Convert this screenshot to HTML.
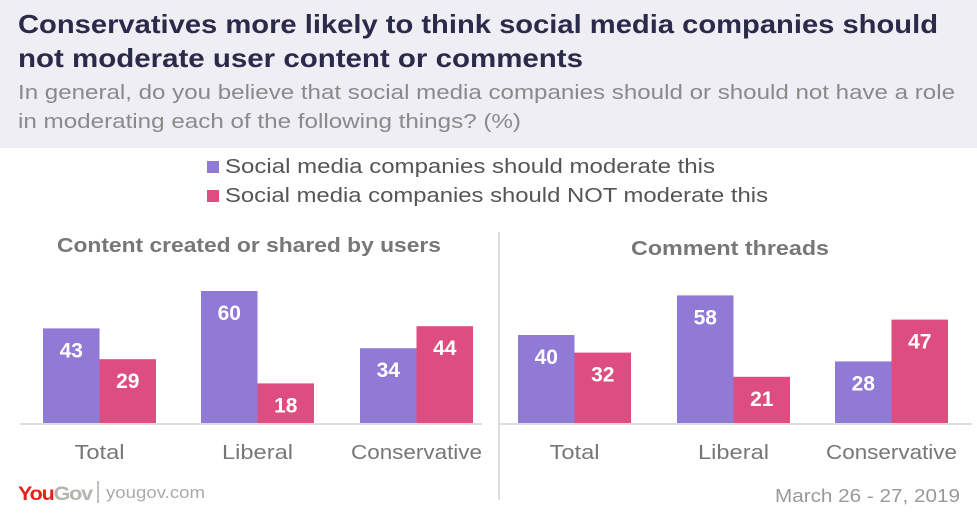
<!DOCTYPE html>
<html><head><meta charset="utf-8"><style>
body{margin:0;width:977px;height:508px;overflow:hidden;background:#fff;font-family:"Liberation Sans",sans-serif;}
</style></head><body>
<svg width="977" height="508" viewBox="0 0 977 508" xmlns="http://www.w3.org/2000/svg">
<rect x="0" y="0" width="977" height="148" fill="#efeef4"/>
<text x="18" y="33" font-size="26" font-weight="bold" fill="#2b2a4a" textLength="920" lengthAdjust="spacingAndGlyphs">Conservatives more likely to think social media companies should</text>
<text x="18" y="67" font-size="26" font-weight="bold" fill="#2b2a4a" textLength="565" lengthAdjust="spacingAndGlyphs">not moderate user content or comments</text>
<text x="18" y="99" font-size="20" fill="#8a8a8a" textLength="937" lengthAdjust="spacingAndGlyphs">In general, do you believe that social media companies should or should not have a role</text>
<text x="18" y="128" font-size="20" fill="#8a8a8a" textLength="503" lengthAdjust="spacingAndGlyphs">in moderating each of the following things? (%)</text>
<rect x="207" y="161" width="12" height="12" fill="#9179d6"/>
<text x="225" y="173" font-size="20" fill="#555" textLength="490" lengthAdjust="spacingAndGlyphs">Social media companies should moderate this</text>
<rect x="207" y="190" width="12" height="12" fill="#de4d7f"/>
<text x="225" y="202" font-size="20" fill="#555" textLength="543" lengthAdjust="spacingAndGlyphs">Social media companies should NOT moderate this</text>
<text x="57" y="252" font-size="20" font-weight="bold" fill="#777" textLength="384" lengthAdjust="spacingAndGlyphs">Content created or shared by users</text>
<text x="631" y="255" font-size="20" font-weight="bold" fill="#777" textLength="198" lengthAdjust="spacingAndGlyphs">Comment threads</text>
<line x1="499" y1="232" x2="499" y2="500" stroke="#ddd" stroke-width="2"/>
<g id="bars"></g>
<line x1="20" y1="424" x2="482" y2="424" stroke="#ddd" stroke-width="2"/>
<line x1="500" y1="424" x2="972" y2="424" stroke="#ddd" stroke-width="2"/>
<text x="18" y="500" font-size="19" font-weight="bold" fill="#e2231a" letter-spacing="-1" textLength="74" lengthAdjust="spacingAndGlyphs">You<tspan fill="#b5b5b0">Gov</tspan></text>
<line x1="98" y1="481" x2="98" y2="503" stroke="#aaa" stroke-width="1.5"/>
<text x="106" y="498" font-size="17" fill="#aaa" textLength="99" lengthAdjust="spacingAndGlyphs">yougov.com</text>
<text x="775" y="502" font-size="18" fill="#999" textLength="185" lengthAdjust="spacingAndGlyphs">March 26 - 27, 2019</text>
</svg>
<script>
const categories=["Total","Liberal","Conservative"];
const contentModerate=[43,60,34];
const contentNotModerate=[29,18,44];
const commentsModerate=[40,58,28];
const commentsNotModerate=[32,21,47];
const NS="http://www.w3.org/2000/svg";
const g=document.getElementById('bars');
const base=423, scale=2.2, bw=56.5;
const labelWidths={"Total":50,"Liberal":71,"Conservative":131};
function y(v){return base-v*scale;}
function mk(tag,attrs){const e=document.createElementNS(NS,tag);for(const k in attrs)e.setAttribute(k,attrs[k]);g.appendChild(e);return e;}
function panel(starts,a,b,tag){
 categories.forEach((c,i)=>{
  const x0=starts[i];
  [[a[i],'#9179d6','moderate'],[b[i],'#de4d7f','not-moderate']].forEach((s,j)=>{
   const x=x0+j*bw;
   const r=mk('rect',{x:x,y:y(s[0]),width:bw,height:s[0]*scale,fill:s[1]});
   
   
   const t=mk('text',{x:x+bw/2,y:y(s[0])+29,'font-size':21,'font-weight':'bold',fill:'#fff','text-anchor':'middle'});
   t.textContent=s[0];
   
   
  });
  const w=labelWidths[c]||60;
  const l=mk('text',{x:x0+bw-w/2,y:459,'font-size':20,fill:'#777',textLength:w,lengthAdjust:'spacingAndGlyphs'});
  l.textContent=c;
  
  
 });
}
panel([43,201,360],contentModerate,contentNotModerate,'content');
panel([518,677,835],commentsModerate,commentsNotModerate,'comments');
</script>
</body></html>
